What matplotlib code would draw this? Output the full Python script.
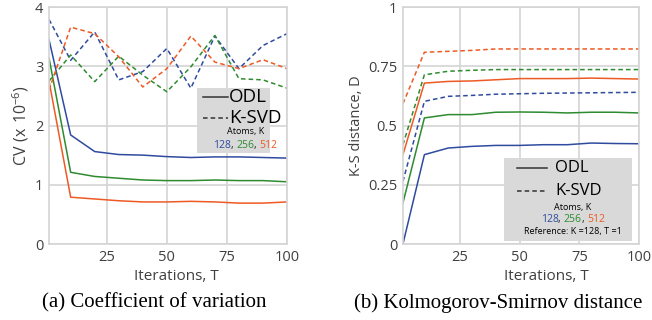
import numpy as np
from matplotlib import pyplot as plt
from matplotlib.patches import Rectangle
from matplotlib.offsetbox import TextArea, HPacker, AnnotationBbox

plt.rcParams['font.family'] = ['Open Sans', 'DejaVu Sans']

# Iterations
T = [1, 10, 20, 30, 40, 50, 60, 70, 80, 90, 100]

# (a) Coefficient of variation (x 1e-6)
cv_odl_128 = [3.45, 1.84, 1.56, 1.51, 1.50, 1.475, 1.46, 1.47, 1.47, 1.46, 1.45]
cv_odl_256 = [3.14, 1.21, 1.14, 1.11, 1.08, 1.07, 1.07, 1.08, 1.07, 1.07, 1.05]
cv_odl_512 = [2.75, 0.79, 0.76, 0.73, 0.71, 0.71, 0.72, 0.71, 0.69, 0.69, 0.71]
cv_ksvd_128 = [3.79, 3.10, 3.58, 2.77, 2.91, 3.30, 2.63, 3.51, 2.96, 3.35, 3.55]
cv_ksvd_256 = [2.75, 3.19, 2.74, 3.17, 2.85, 2.57, 2.99, 3.52, 2.79, 2.77, 2.63]
cv_ksvd_512 = [2.60, 3.66, 3.55, 3.16, 2.65, 2.96, 3.51, 3.07, 2.96, 3.11, 2.96]

# (b) K-S distance
ks_odl_128 = [0.0, 0.377, 0.405, 0.412, 0.416, 0.416, 0.419, 0.419, 0.426, 0.424, 0.423]
ks_odl_256 = [0.173, 0.532, 0.546, 0.546, 0.556, 0.557, 0.556, 0.553, 0.556, 0.556, 0.553]
ks_odl_512 = [0.377, 0.679, 0.686, 0.688, 0.693, 0.698, 0.698, 0.698, 0.700, 0.698, 0.696]
ks_ksvd_128 = [0.264, 0.602, 0.623, 0.627, 0.632, 0.634, 0.636, 0.637, 0.638, 0.639, 0.640]
ks_ksvd_256 = [0.419, 0.714, 0.729, 0.733, 0.736, 0.736, 0.736, 0.736, 0.736, 0.736, 0.736]
ks_ksvd_512 = [0.592, 0.809, 0.813, 0.817, 0.823, 0.823, 0.823, 0.823, 0.823, 0.823, 0.823]

atoms = ['128', '256', '512']
colors = ['#2f4b9f', '#2e8b30', '#ee5a24']
grid_col = '#d4d4d4'
tick_col = '#404040'

fig = plt.figure(figsize=(6.52, 3.2), dpi=100)
ax1 = fig.add_axes([0.0752, 0.2375, 0.365, 0.7406])
ax2 = fig.add_axes([0.618, 0.2375, 0.362, 0.7406])


def style(ax, yticks, ylabels, ylabel, xlab_x, ylab_size):
    ax.set_xlim(1, 100)
    ax.set_ylim(yticks[0], yticks[-1])
    ax.set_xticks([25, 50, 75, 100])
    ax.set_yticks(yticks)
    ax.set_yticklabels(ylabels)
    ax.grid(True, color=grid_col, lw=1.2)
    ax.set_axisbelow(True)
    for s in ax.spines.values():
        s.set_color(grid_col)
        s.set_linewidth(1.2)
    ax.tick_params(length=0, labelsize=10.5, colors=tick_col, pad=4)
    ax.set_xlabel('Iterations, T', fontsize=11, color=tick_col, labelpad=1)
    ax.xaxis.set_label_coords(xlab_x, -0.105)
    ax.set_ylabel(ylabel, fontsize=ylab_size, color=tick_col, labelpad=3)


def legend(ax, x0, x1, y0, y1, rows, fs, ref=False):
    ax.add_patch(Rectangle((x0, y0), x1 - x0, y1 - y0, transform=ax.transAxes,
                           facecolor='#d9d9d9', edgecolor='none', zorder=5))
    (ly1, ly2, lx0, lx1, tx, cx, ya, yn, yr) = rows
    ax.plot([lx0, lx1], [ly1, ly1], color='#333333', lw=1.1, transform=ax.transAxes, zorder=6)
    ax.plot([lx0, lx1], [ly2, ly2], color='#333333', lw=1.1, ls=(0, (3, 2)),
            transform=ax.transAxes, zorder=6)
    ax.text(tx, ly1, 'ODL', transform=ax.transAxes, fontsize=fs, va='center', zorder=6)
    ax.text(tx, ly2, 'K-SVD', transform=ax.transAxes, fontsize=fs, va='center', zorder=6)
    ax.text(cx, ya, 'Atoms, K', transform=ax.transAxes, fontsize=6.5, ha='center',
            va='center', zorder=6)
    parts = []
    for i, (a, c) in enumerate(zip(atoms, colors)):
        parts.append(TextArea(a, textprops=dict(color=c, fontsize=7.5)))
        if i < len(atoms) - 1:
            parts.append(TextArea(', ', textprops=dict(color='#222222', fontsize=7.5)))
    box = HPacker(children=parts, pad=0, sep=0)
    ab = AnnotationBbox(box, (cx, yn), xycoords=ax.transAxes, frameon=False,
                        box_alignment=(0.5, 0.5), pad=0, zorder=6)
    ax.add_artist(ab)
    if ref:
        ax.text(cx, yr, 'Reference: K =128, T =1', transform=ax.transAxes, fontsize=6.5,
                ha='center', va='center', zorder=6)


# (a)
for y, c in zip([cv_odl_128, cv_odl_256, cv_odl_512], colors):
    ax1.plot(T, y, color=c, lw=1.1)
for y, c in zip([cv_ksvd_128, cv_ksvd_256, cv_ksvd_512], colors):
    ax1.plot(T, y, color=c, lw=1.1, ls=(0, (3, 2)))
style(ax1, [0, 1, 2, 3, 4], ['0', '1', '2', '3', '4'],
      r'$\mathregular{CV\ (x\ 10^{-6})}$', 0.534, 11.5)
legend(ax1, 0.622, 0.929, 0.384, 0.658,
       (0.62, 0.532, 0.647, 0.752, 0.756, 0.824, 0.473, 0.414, None), 13.5)

# (b)
for y, c in zip([ks_odl_128, ks_odl_256, ks_odl_512], colors):
    ax2.plot(T, y, color=c, lw=1.1)
for y, c in zip([ks_ksvd_128, ks_ksvd_256, ks_ksvd_512], colors):
    ax2.plot(T, y, color=c, lw=1.1, ls=(0, (3, 2)))
style(ax2, [0, 0.25, 0.5, 0.75, 1], ['0', '0.25', '0.5', '0.75', '1'],
      'K-S distance, D', 0.606, 10.5)
legend(ax2, 0.428, 0.970, 0.013, 0.363,
       (0.321, 0.224, 0.483, 0.610, 0.644, 0.72, 0.156, 0.105, 0.051), 12, ref=True)

fig.text(0.236, 0.053, '(a) Coefficient of variation', family='Liberation Serif',
         fontsize=15, ha='center', va='center')
fig.text(0.764, 0.053, '(b) Kolmogorov-Smirnov distance', family='Liberation Serif',
         fontsize=15, ha='center', va='center')

fig.savefig('out.png', dpi=100)
